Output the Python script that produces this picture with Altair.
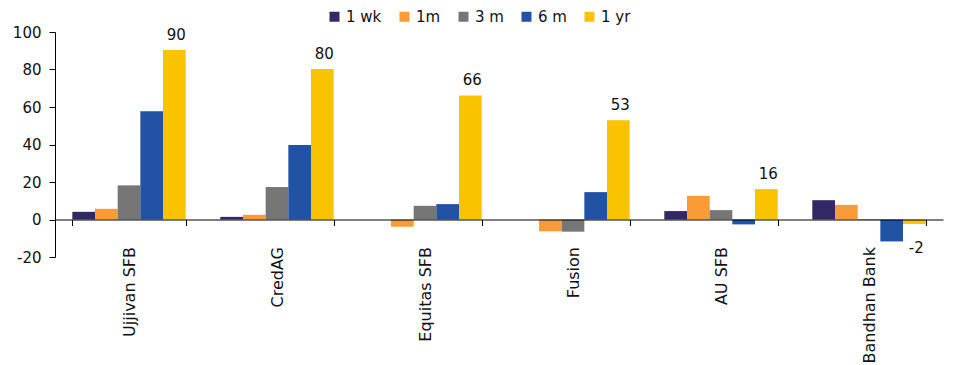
import altair as alt
import pandas as pd

companies = ["Ujjivan SFB", "CredAG", "Equitas SFB", "Fusion", "AU SFB", "Bandhan Bank"]
series = ["1 wk", "1m", "3 m", "6 m", "1 yr"]
wk1 = [4.1, 1.4, 0.0, 0.0, 4.5, 10.3]
m1 = [5.7, 2.5, -3.9, -6.2, 12.6, 7.8]
m3 = [18.2, 17.3, 7.3, -6.5, 5.0, -0.3]
m6 = [57.8, 39.7, 8.2, 14.6, -2.6, -11.7]
yr1 = [90.4, 80.3, 66.2, 52.9, 16.2, -2.4]
colors = ["#322865", "#F99B36", "#767676", "#2152A4", "#F9C300"]

rows = []
for s, vals in zip(series, [wk1, m1, m3, m6, yr1]):
    for c, v in zip(companies, vals):
        rows.append({"Company": c, "Series": s, "Value": v})
df = pd.DataFrame(rows)

FONT = "DejaVu Sans"
TXT = "#111111"

x_enc = alt.X(
    "Company:N", sort=companies,
    scale=alt.Scale(paddingInner=0.234, paddingOuter=0.117),
    axis=alt.Axis(
        title=None, offset=-37.5, labelAngle=-90, tickBand="extent",
        labelPadding=21, tickSize=6, domainColor="#000000", tickColor="#000000",
        labelFont=FONT, labelFontSize=16, labelColor=TXT, zindex=1,
    ),
)
xo_enc = alt.XOffset("Series:N", sort=series, scale=alt.Scale(domain=series))
y_enc = alt.Y(
    "Value:Q",
    scale=alt.Scale(domain=[-20, 100], nice=False),
    axis=alt.Axis(
        title=None, values=[-20, 0, 20, 40, 60, 80, 100], grid=False,
        tickSize=6, labelPadding=8, domainColor="#000000", tickColor="#000000",
        labelFont=FONT, labelFontSize=15, labelColor=TXT,
        labelExpr="datum.value + ''",
    ),
)

base = alt.Chart(df)

bars = base.mark_bar().encode(
    x=x_enc, xOffset=xo_enc, y=y_enc,
    color=alt.Color(
        "Series:N",
        scale=alt.Scale(domain=series, range=colors),
        legend=alt.Legend(
            title=None, orient="none", direction="horizontal",
            legendX=272, legendY=-23, symbolType="square", symbolSize=100,
            symbolStrokeWidth=0, labelFont=FONT, labelFontSize=15, labelColor=TXT,
            labelOffset=4, columnPadding=15,
        ),
    ),
)

pos_lbl = base.transform_filter(
    "datum.Series == '1 yr' && datum.Value >= 0"
).transform_calculate(lbl="'' + round(datum.Value)").mark_text(
    baseline="alphabetic", dy=-10, dx=2, font=FONT, fontSize=15, color=TXT
).encode(x=x_enc, xOffset=xo_enc, y=y_enc, text="lbl:N")

neg_lbl = base.transform_filter(
    "datum.Series == '1 yr' && datum.Value < 0"
).transform_calculate(lbl="'' + round(datum.Value)").mark_text(
    baseline="alphabetic", dy=29, dx=2, font=FONT, fontSize=15, color=TXT
).encode(x=x_enc, xOffset=xo_enc, y=y_enc, text="lbl:N")

chart = alt.layer(bars, pos_lbl, neg_lbl).properties(
    width=888, height=225,
    background="white",
    autosize=alt.AutoSizeParams(type="none"),
    padding={"left": 55, "top": 32, "right": 11, "bottom": 108},
).configure_view(stroke=None)

chart.save("out.html", embed_options={"renderer": "svg", "actions": False})
